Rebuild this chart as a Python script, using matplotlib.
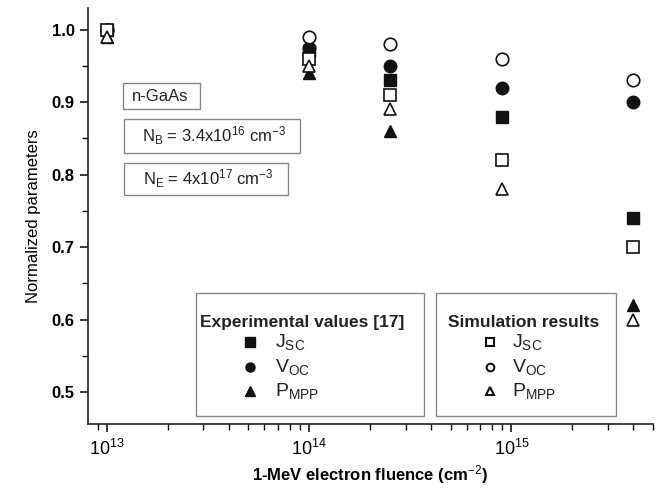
import numpy as np
import matplotlib
matplotlib.use("Agg")
import matplotlib.pyplot as plt
from matplotlib.patches import Rectangle
from matplotlib.ticker import LogLocator, MultipleLocator, NullFormatter

plt.rcParams['font.family'] = 'Liberation Sans'
plt.rcParams['mathtext.fontset'] = 'custom'
plt.rcParams['mathtext.rm'] = 'Liberation Sans'
plt.rcParams['mathtext.it'] = 'Liberation Sans:italic'
plt.rcParams['mathtext.bf'] = 'Liberation Sans:bold'

# ── data ──────────────────────────────────────────────────────────
fluence = [1e13, 1e14, 2.5e14, 9e14, 4e15]

exp_jsc = [1.00, 0.97, 0.93, 0.88, 0.74]
exp_voc = [1.00, 0.975, 0.95, 0.92, 0.90]
exp_pmpp = [0.99, 0.94, 0.86, np.nan, 0.62]

sim_jsc = [1.00, 0.96, 0.91, 0.82, 0.70]
sim_voc = [1.00, 0.99, 0.98, 0.96, 0.93]
sim_pmpp = [0.99, 0.95, 0.89, 0.78, 0.60]

# ── plot ──────────────────────────────────────────────────────────
fig = plt.figure(figsize=(6.62, 4.93), dpi=100)
ax = fig.add_axes([0.133, 0.14, 0.853, 0.844])

ms = 9
filled = dict(ls='none', color='#111111', markersize=ms, zorder=3)
opened = dict(ls='none', markerfacecolor='white', markeredgecolor='#111111',
              markeredgewidth=1.2, markersize=ms, zorder=4)

ax.plot(fluence, exp_jsc, 's', **filled)
ax.plot(fluence, exp_voc, 'o', **filled)
ax.plot(fluence, exp_pmpp, '^', **filled)
ax.plot(fluence, sim_voc, 'o', **opened)
ax.plot(fluence, sim_jsc, 's', **opened)
ax.plot(fluence, sim_pmpp, '^', **opened)

ax.set_xscale('log')
ax.set_xlim(8.06e12, 5e15)
ax.set_ylim(0.456, 1.03)

ax.xaxis.set_major_locator(LogLocator(base=10, numticks=10))
ax.xaxis.set_minor_locator(LogLocator(base=10, subs=np.arange(2, 10), numticks=20))
ax.xaxis.set_minor_formatter(NullFormatter())
ax.yaxis.set_major_locator(MultipleLocator(0.1))
ax.yaxis.set_minor_locator(MultipleLocator(0.05))
ax.yaxis.set_major_formatter(plt.FormatStrFormatter('%.1f'))

for s in ['top', 'right']:
    ax.spines[s].set_visible(False)
for s in ['left', 'bottom']:
    ax.spines[s].set_linewidth(1.2)
    ax.spines[s].set_color('#222222')

ax.tick_params(which='major', direction='out', length=6, width=1.1, labelsize=12)
ax.tick_params(which='minor', direction='out', length=4, width=1.0)
ax.tick_params(axis='x', labelsize=13, pad=5)
for lbl in ax.get_yticklabels():
    lbl.set_fontweight('bold')

ax.set_ylabel("Normalized parameters", fontsize=12, labelpad=8)
ax.set_xlabel("1-MeV electron fluence (cm$^{-2}$)", fontsize=12,
              fontweight='bold', labelpad=3)

# ── annotation boxes ──────────────────────────────────────────────
box_kw = dict(transform=ax.transAxes, fill=False, edgecolor='#888888',
              linewidth=1.0, clip_on=False)
ax.add_patch(Rectangle((0.062, 0.756), 0.136, 0.064, **box_kw))
ax.add_patch(Rectangle((0.064, 0.651), 0.311, 0.082, **box_kw))
ax.add_patch(Rectangle((0.064, 0.550), 0.290, 0.077, **box_kw))
ax.text(0.078, 0.788, "n-GaAs", transform=ax.transAxes, fontsize=12,
        va='center', color='#222222')
ax.text(0.096, 0.692, r"N$_{\rm B}$ = 3.4x10$^{16}$ cm$^{-3}$",
        transform=ax.transAxes, fontsize=12, va='center', color='#222222')
ax.text(0.097, 0.589, r"N$_{\rm E}$ = 4x10$^{17}$ cm$^{-3}$",
        transform=ax.transAxes, fontsize=12, va='center', color='#222222')

# ── legend boxes ──────────────────────────────────────────────────
ax.add_patch(Rectangle((0.191, 0.019), 0.404, 0.296, **box_kw))
ax.add_patch(Rectangle((0.616, 0.019), 0.319, 0.296, **box_kw))
ax.text(0.198, 0.245, "Experimental values [17]", transform=ax.transAxes,
        fontsize=12.5, fontweight='bold', va='center', color='#222222')
ax.text(0.637, 0.245, "Simulation results", transform=ax.transAxes,
        fontsize=12.5, fontweight='bold', va='center', color='#222222')

labels = [r"J$_{\rm SC}$", r"V$_{\rm OC}$", r"P$_{\rm MPP}$"]
marks = ['s', 'o', '^']
rows = [0.197, 0.137, 0.079]
for m, lab, yy in zip(marks, labels, rows):
    ax.plot([0.287], [yy], m, color='#111111', markersize=6.5,
            transform=ax.transAxes, clip_on=False)
    ax.text(0.331, yy, lab, transform=ax.transAxes, fontsize=14,
            va='center', color='#222222')
    ax.plot([0.712], [yy], m, markerfacecolor='white', markeredgecolor='#111111',
            markeredgewidth=1.5, markersize=5.5, transform=ax.transAxes,
            clip_on=False)
    ax.text(0.750, yy, lab, transform=ax.transAxes, fontsize=14,
            va='center', color='#222222')

fig.savefig("out.png", dpi=100)
